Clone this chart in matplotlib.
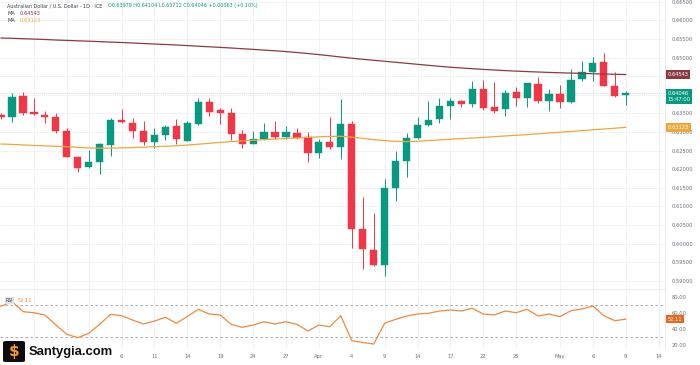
import matplotlib

matplotlib.use("Agg")
import matplotlib.pyplot as plt
from matplotlib.patches import FancyBboxPatch, Rectangle

# daily AUD/USD bars, index 0 = 20 Feb 2025, -1 = 19 Feb (cut off at the left edge)
bar_index = list(range(-1, 57))
opens = [
    0.63460, 0.63400, 0.63965, 0.63543, 0.63462, 0.63392, 0.63032, 0.62316, 0.62055, 0.62182,
    0.62647, 0.63320, 0.63247, 0.63032, 0.62736, 0.62916, 0.63166, 0.62763, 0.63212, 0.63812,
    0.63588, 0.63516, 0.62935, 0.62674, 0.62808, 0.63005, 0.62871, 0.62962, 0.62854, 0.62440,
    0.62720, 0.62585, 0.63212, 0.60380, 0.59822, 0.59419, 0.61482, 0.62217, 0.62843, 0.63185,
    0.63346, 0.63696, 0.63831, 0.63750, 0.64145, 0.63661, 0.63607, 0.64081, 0.63903, 0.64280,
    0.63839, 0.64011, 0.63796, 0.64414, 0.64618, 0.64871, 0.64234, 0.63979,
]
highs = [
    0.63500, 0.64038, 0.64081, 0.63919, 0.63562, 0.63500, 0.63112, 0.62359, 0.62513, 0.62693,
    0.63365, 0.63615, 0.63365, 0.63293, 0.63112, 0.63185, 0.63338, 0.63301, 0.63903, 0.63903,
    0.63634, 0.63634, 0.63050, 0.63032, 0.63247, 0.63301, 0.63158, 0.63112, 0.63005, 0.62800,
    0.63408, 0.63876, 0.63293, 0.61256, 0.60826, 0.61724, 0.62486, 0.62962, 0.63408, 0.63831,
    0.63903, 0.63903, 0.63858, 0.64369, 0.64396, 0.64334, 0.64127, 0.64215, 0.64323, 0.64468,
    0.64154, 0.64261, 0.64692, 0.64914, 0.65005, 0.65129, 0.64618, 0.64104,
]
lows = [
    0.63360, 0.63274, 0.63454, 0.63465, 0.63231, 0.62962, 0.62320, 0.61929, 0.62036, 0.61859,
    0.62351, 0.63247, 0.62827, 0.62647, 0.62574, 0.62781, 0.62674, 0.62750, 0.63190, 0.63435,
    0.63204, 0.62781, 0.62574, 0.62666, 0.62781, 0.62808, 0.62800, 0.62808, 0.62182, 0.62305,
    0.62531, 0.62262, 0.59868, 0.59311, 0.59400, 0.59123, 0.61149, 0.61794, 0.62800, 0.63150,
    0.63231, 0.63346, 0.63677, 0.63677, 0.63588, 0.63500, 0.63427, 0.63696, 0.63677, 0.63769,
    0.63562, 0.63650, 0.63780, 0.64377, 0.64377, 0.64230, 0.63950, 0.63712,
]
closes = [
    0.63410, 0.63946, 0.63508, 0.63473, 0.63408, 0.63024, 0.62332, 0.62020, 0.62182, 0.62674,
    0.63320, 0.63266, 0.63032, 0.62736, 0.62916, 0.63139, 0.62808, 0.63231, 0.63812, 0.63543,
    0.63516, 0.62943, 0.62674, 0.62800, 0.63005, 0.62871, 0.62989, 0.62843, 0.62424, 0.62720,
    0.62585, 0.63212, 0.60388, 0.59849, 0.59419, 0.61482, 0.62225, 0.62843, 0.63185, 0.63320,
    0.63696, 0.63839, 0.63750, 0.64145, 0.63650, 0.63569, 0.64038, 0.63903, 0.64307, 0.63831,
    0.64011, 0.63796, 0.64396, 0.64618, 0.64844, 0.64242, 0.63965, 0.64046,
]
ma_slow = [
    0.65524, 0.65516, 0.65505, 0.65495, 0.65484, 0.65470, 0.65460, 0.65449, 0.65438, 0.65427,
    0.65414, 0.65403, 0.65390, 0.65376, 0.65363, 0.65350, 0.65336, 0.65320, 0.65304, 0.65288,
    0.65272, 0.65255, 0.65237, 0.65218, 0.65199, 0.65180, 0.65159, 0.65134, 0.65108, 0.65078,
    0.65046, 0.65013, 0.64981, 0.64952, 0.64925, 0.64898, 0.64871, 0.64844, 0.64817, 0.64790,
    0.64763, 0.64739, 0.64718, 0.64699, 0.64680, 0.64664, 0.64648, 0.64634, 0.64621, 0.64610,
    0.64599, 0.64589, 0.64581, 0.64573, 0.64564, 0.64556, 0.64548, 0.64543,
]
ma_fast = [
    0.62675, 0.62664, 0.62650, 0.62637, 0.62624, 0.62613, 0.62602, 0.62586, 0.62567, 0.62562,
    0.62565, 0.62570, 0.62578, 0.62589, 0.62602, 0.62613, 0.62626, 0.62648, 0.62669, 0.62694,
    0.62718, 0.62739, 0.62758, 0.62774, 0.62793, 0.62809, 0.62823, 0.62839, 0.62852, 0.62866,
    0.62879, 0.62882, 0.62858, 0.62828, 0.62793, 0.62766, 0.62747, 0.62739, 0.62747, 0.62766,
    0.62785, 0.62804, 0.62820, 0.62836, 0.62852, 0.62871, 0.62890, 0.62909, 0.62927, 0.62949,
    0.62970, 0.62992, 0.63013, 0.63035, 0.63056, 0.63078, 0.63099, 0.63123,
]
rsi = [
    68.0, 74.0, 61.4, 60.1, 57.3, 45.0, 33.3, 29.1, 34.5, 45.7,
    58.1, 56.4, 51.0, 46.1, 49.8, 54.4, 47.0, 55.5, 64.3, 58.5,
    57.3, 45.7, 42.0, 44.8, 48.9, 46.1, 48.9, 45.7, 37.4, 44.8,
    42.7, 56.4, 25.3, 23.2, 21.2, 47.0, 51.9, 56.0, 58.5, 59.4,
    62.2, 63.5, 62.2, 65.6, 58.5, 57.3, 62.2, 60.1, 64.3, 56.0,
    58.5, 55.2, 62.6, 64.7, 68.4, 56.4, 50.2, 52.11,
]

# gridline positions; the first three labels sit under the watermark, so they stay blank
tick_pos = [2, 5, 7, 10, 13, 16, 19, 22, 25, 28, 31, 34, 37, 40, 43, 46, 50, 53, 56, 59]
tick_labels = ["", "", "", "6", "11", "14", "19", "24", "27", "Apr",
               "4", "9", "14", "17", "22", "25", "May", "6", "9", "14"]
price_ticks = [0.590 + 0.005 * k for k in range(16)]
hidden_price_labels = [0.640, 0.645]  # covered by the value tags
rsi_ticks = [20, 40, 60, 80]

UP = "#089981"
DOWN = "#f23645"
SLOW = "#8c3a40"
FAST = "#f0a63a"
RSI_C = "#ec8a3e"
GRID = "#eef0f4"
TXT = "#6a6d78"
FS = 3.7

W, H = 700, 365
fig = plt.figure(figsize=(W / 100, H / 100), dpi=100)
fig.patch.set_facecolor("white")


def fx(px):
    return px / W


def fy(py):
    return 1 - py / H


ax = fig.add_axes([0, fy(289), fx(665), 289 / H])
ax_rsi = fig.add_axes([0, fy(348), fx(665), 58 / H], sharex=ax)

# candles
for i, o, h, l, c in zip(bar_index, opens, highs, lows, closes):
    col = UP if c >= o else DOWN
    ax.vlines(i, l, h, color=col, linewidth=0.7, zorder=3)
    ax.bar(i, abs(c - o) or 0.00004, bottom=min(o, c), width=0.66, color=col,
           edgecolor=col, linewidth=0.3, zorder=4)

ax.plot(bar_index, ma_slow, color=SLOW, linewidth=0.9, zorder=5)
ax.plot(bar_index, ma_fast, color=FAST, linewidth=0.9, zorder=5)
ax.axhline(closes[-1], color="#9fb9b3", linewidth=0.5, linestyle=(0, (1, 2)), zorder=2)

ax.set_xlim(-1.095, 59.58)
ax.set_ylim(0.58777, 0.665457)
ax.set_yticks(price_ticks)
ax.set_yticklabels([
    "" if any(abs(p - h) < 1e-6 for h in hidden_price_labels) else f"{p:.5f}"
    for p in price_ticks
])
ax.yaxis.tick_right()
ax.tick_params(axis="y", length=0, pad=5, labelsize=FS, labelcolor=TXT)
ax.tick_params(axis="x", length=0, labelbottom=False)
ax.set_xticks(tick_pos)
ax.grid(True, color=GRID, linewidth=0.6)
ax.set_axisbelow(True)

# rsi pane
ax_rsi.plot(bar_index, rsi, color=RSI_C, linewidth=0.9, zorder=3)
for lvl in (70, 30):
    ax_rsi.axhline(lvl, color="#a0a3ab", linewidth=0.6, linestyle=(0, (3, 3)), zorder=2)
ax_rsi.set_ylim(16.3, 88.3)
ax_rsi.set_yticks(rsi_ticks)
ax_rsi.set_yticklabels([f"{v:.2f}" for v in rsi_ticks])
ax_rsi.yaxis.tick_right()
ax_rsi.tick_params(axis="y", length=0, pad=5, labelsize=FS, labelcolor=TXT)
ax_rsi.set_xticks(tick_pos)
ax_rsi.set_xticklabels(tick_labels)
ax_rsi.tick_params(axis="x", length=0, pad=4, labelsize=FS, labelcolor=TXT)
ax_rsi.grid(True, axis="x", color=GRID, linewidth=0.6)
ax_rsi.set_axisbelow(True)

for a in (ax, ax_rsi):
    for side in ("top", "left", "bottom"):
        a.spines[side].set_visible(False)
    a.spines["right"].set_color("#e6e8ee")
    a.spines["right"].set_linewidth(0.6)
ax.spines["bottom"].set_visible(True)
ax.spines["bottom"].set_color("#e6e8ee")
ax.spines["bottom"].set_linewidth(0.6)


def tag(a, y, text, color, fs=FS):
    a.text(1.004, y, text, transform=a.get_yaxis_transform(), ha="left", va="center",
           fontsize=fs, color="white", zorder=10, clip_on=False, linespacing=1.3,
           bbox=dict(boxstyle="square,pad=0.35", fc=color, ec="none"))


tag(ax, ma_slow[-1], f"{ma_slow[-1]:.5f}", SLOW)
tag(ax, closes[-1] - 0.0009, f"{closes[-1]:.5f}\n15:47:00", UP)
tag(ax, ma_fast[-1], f"{ma_fast[-1]:.5f}", FAST)
tag(ax_rsi, rsi[-1], f"{rsi[-1]:.2f}", "#e8671c")

# header legend
fig.text(fx(7), fy(5.7), "Australian Dollar / U.S. Dollar · 1D · ICE", fontsize=FS - 0.2,
         color="#3a3d45", va="center")
fig.text(fx(108), fy(5.7),
         f"O{opens[-1]:.5f} H{highs[-1]:.5f} L{lows[-1]:.5f} C{closes[-1]:.5f} +0.00063 (+0.10%)",
         fontsize=FS - 0.2, color=UP, va="center")
fig.text(fx(7), fy(13.3), "MA", fontsize=FS, color="#3a3d45", va="center")
fig.text(fx(20), fy(13.3), f"{ma_slow[-1]:.5f}", fontsize=FS, color=SLOW, va="center")
fig.text(fx(7), fy(20.7), "MA", fontsize=FS, color="#3a3d45", va="center")
fig.text(fx(20), fy(20.7), f"{ma_fast[-1]:.5f}", fontsize=FS, color=FAST, va="center")
fig.text(fx(6), fy(300.5), "RSI", fontsize=FS - 0.4, color="#3a3d45", va="center",
         bbox=dict(boxstyle="square,pad=0.15", fc="#dfe1e6", ec="none"))
fig.text(fx(18), fy(300.5), f"{rsi[-1]:.2f}", fontsize=FS, color=RSI_C, va="center")

# watermark logo
fig.patches.append(Rectangle((fx(0), fy(365)), fx(116), 25 / H, transform=fig.transFigure,
                             fc="white", ec="none", zorder=20))
fig.patches.append(FancyBboxPatch((fx(3), fy(362)), fx(22), 21 / H, transform=fig.transFigure,
                                  boxstyle="round,pad=0,rounding_size=0.004", fc="#0d0d0d",
                                  ec="none", zorder=21))
fig.text(fx(14.5), fy(351.5), "$", fontsize=11, fontweight="bold", color="#f59a1b",
         ha="center", va="center", zorder=22)
fig.text(fx(28.5), fy(352), "Santygia.com", fontsize=9.4, fontweight="bold",
         family="Liberation Sans", color="#111111", va="center", zorder=22)

fig.savefig("out.png", dpi=100)
plt.close(fig)
